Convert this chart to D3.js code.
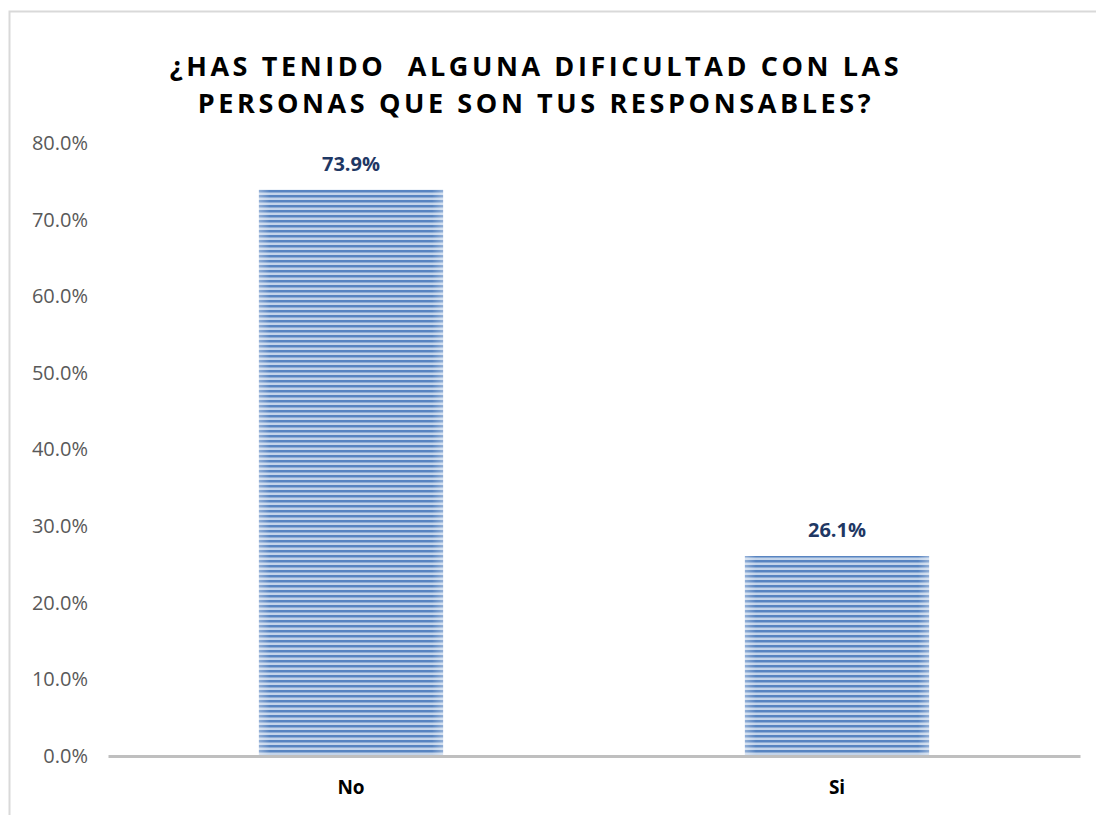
<!DOCTYPE html>
<html>
<head>
<meta charset="utf-8">
<script src="https://cdn.jsdelivr.net/npm/d3@7"></script>
<style>
  body { margin: 0; background: #fff; }
</style>
</head>
<body>
<script>
var categories = ['No', 'Si'];
var values = [0.739, 0.261];
var yTicks = [0, 0.1, 0.2, 0.3, 0.4, 0.5, 0.6, 0.7, 0.8];
var titleLines = ['¿HAS TENIDO  ALGUNA DIFICULTAD CON LAS', 'PERSONAS QUE SON TUS RESPONSABLES?'];

var width = 1096,
    height = 815;

var svg = d3.select('body').append('svg')
    .attr('width', width)
    .attr('height', height);

// chart frame
svg.append('path')
    .attr('d', 'M9.5,' + height + 'V11.5H' + width)
    .attr('fill', 'none')
    .attr('stroke', '#d9d9d9')
    .attr('stroke-width', 2);

// striped fill
var defs = svg.append('defs');
var pat = defs.append('pattern')
    .attr('id', 'stripes')
    .attr('patternUnits', 'userSpaceOnUse')
    .attr('width', 10)
    .attr('height', 5);
pat.append('rect').attr('width', 10).attr('height', 5).attr('fill', '#c3d4ea');
pat.append('rect').attr('y', 0).attr('width', 10).attr('height', 2.5).attr('fill', '#5784c1');

var edge = defs.append('linearGradient')
    .attr('id', 'edge')
    .attr('x1', 0).attr('x2', 1).attr('y1', 0).attr('y2', 0);
edge.append('stop').attr('offset', 0).attr('stop-color', '#fff').attr('stop-opacity', 0.35);
edge.append('stop').attr('offset', 0.06).attr('stop-color', '#fff').attr('stop-opacity', 0);
edge.append('stop').attr('offset', 0.94).attr('stop-color', '#fff').attr('stop-opacity', 0);
edge.append('stop').attr('offset', 1).attr('stop-color', '#fff').attr('stop-opacity', 0.35);

var x = d3.scaleBand()
    .domain(categories)
    .range([108, 1080])
    .paddingInner(0.621)
    .paddingOuter(0.3105);

var y = d3.scaleLinear()
    .domain([0, 0.8])
    .range([756, 143]);

// title
svg.append('text')
    .attr('text-anchor', 'middle')
    .style('font-family', 'Open Sans, sans-serif')
    .style('font-weight', 'bold')
    .style('font-size', '27px')
    .style('letter-spacing', '3.6px')
    .attr('fill', '#000')
    .selectAll('tspan')
    .data(titleLines)
    .enter().append('tspan')
    .attr('x', 536)
    .attr('y', function(d, i) { return 76 + i * 37; })
    .style('white-space', 'pre')
    .attr('xml:space', 'preserve')
    .text(function(d) { return d; });

// y axis labels
var yAxis = svg.append('g')
    .attr('transform', 'translate(88,0)')
    .call(d3.axisLeft(y).tickValues(yTicks).tickFormat(d3.format('.1%')).tickSize(0).tickPadding(0));
yAxis.select('.domain').remove();
yAxis.selectAll('text')
    .attr('fill', '#595959')
    .style('font-family', 'Open Sans, sans-serif')
    .style('font-size', '20px');

// bars
var bars = svg.selectAll('.bar')
    .data(values)
    .enter().append('g');

bars.append('rect')
    .attr('x', function(d, i) { return x(categories[i]); })
    .attr('y', function(d) { return y(d); })
    .attr('width', x.bandwidth())
    .attr('height', function(d) { return y(0) - y(d); })
    .attr('fill', 'url(#stripes)');

bars.append('rect')
    .attr('x', function(d, i) { return x(categories[i]); })
    .attr('y', function(d) { return y(d); })
    .attr('width', x.bandwidth())
    .attr('height', function(d) { return y(0) - y(d); })
    .attr('fill', 'url(#edge)');

bars.append('text')
    .attr('x', function(d, i) { return x(categories[i]) + x.bandwidth() / 2; })
    .attr('y', function(d) { return y(d) - 19; })
    .attr('text-anchor', 'middle')
    .attr('fill', '#1f3864')
    .style('font-family', 'Open Sans, sans-serif')
    .style('font-weight', 'bold')
    .style('font-size', '20px')
    .text(function(d) { return d3.format('.1%')(d); });

// x axis
var xAxis = svg.append('g')
    .attr('transform', 'translate(0,' + y(0) + ')')
    .call(d3.axisBottom(x).tickSize(0).tickPadding(25));
xAxis.select('.domain')
    .attr('stroke', '#bfbfbf')
    .attr('stroke-width', 3);
xAxis.selectAll('text')
    .attr('fill', '#000')
    .style('font-family', 'Open Sans, sans-serif')
    .style('font-weight', 'bold')
    .style('font-size', '19px');
</script>
</body>
</html>
